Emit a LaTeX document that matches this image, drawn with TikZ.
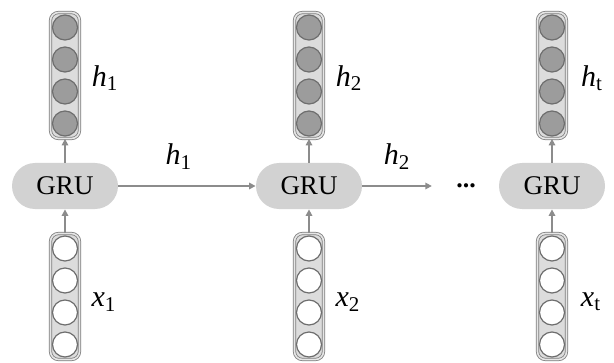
\documentclass[tikz,border=0pt]{standalone}
\usepackage{fontspec}
\setmainfont{Liberation Serif}
\usepackage{tikz}
\usetikzlibrary{arrows.meta, positioning}
\definecolor{cellfill}{HTML}{D2D2D2}
\definecolor{vecfill} {HTML}{DCDCDC}
\definecolor{vecedge} {HTML}{7C7C7C}
\definecolor{hidden}  {HTML}{9C9C9C}
\definecolor{hidedge} {HTML}{6E6E6E}
\definecolor{flowgray}{HTML}{8C8C8C}

\begin{document}
\begin{tikzpicture}[
  % one unit is one pixel of the 614 x 363 layout, y running downwards
  x=0.5pt, y=-0.5pt,
  cell/.style={
    fill=cellfill, rounded corners=11.5pt, minimum width=53pt,
    minimum height=23pt, inner sep=0pt, font=\fontsize{13.5}{15}\selectfont
  },
  vec/.style={
    draw=vecedge, double=vecfill!70, double distance=0.8pt, line width=0.4pt,
    fill=vecfill, rounded corners=4pt, minimum width=14.5pt,
    minimum height=63pt, inner sep=0pt
  },
  hunit/.style={circle, draw=hidedge, fill=hidden, line width=0.6pt,
                minimum size=12.5pt, inner sep=0pt},
  xunit/.style={circle, draw=hidedge, fill=white, line width=0.6pt,
                minimum size=12.5pt, inner sep=0pt},
  flow/.style={-{Triangle[length=3.2pt,width=3.2pt]}, line width=0.75pt,
               color=flowgray},
  varlabel/.style={font=\fontsize{15}{17}\selectfont, text=black, inner sep=1pt}
]

\useasboundingbox (0,0) rectangle (614,363);

\def\cA{65}    % column centres
\def\cB{309}
\def\cC{552}
\def\hY{75.5}  % output vectors
\def\gY{186}   % GRU cells
\def\xY{296.5} % input vectors

% --- GRU cells ----------------------------------------------------------------
\node[cell] (gru1) at (\cA,\gY) {GRU};
\node[cell] (gru2) at (\cB,\gY) {GRU};
\node[cell] (grut) at (\cC,\gY) {GRU};

% --- hidden state vectors, above each cell --------------------------------------
\node[vec] (hvec1) at (\cA,\hY) {};
\node[vec] (hvec2) at (\cB,\hY) {};
\node[vec] (hvect) at (\cC,\hY) {};
\foreach \c/\n in {\cA/1, \cB/2, \cC/t}
  \foreach \i/\y in {1/27.5, 2/59.5, 3/91.5, 4/123.5}
    \node[hunit] (hvec\n-\i) at (\c,\y) {};

% --- input vectors, below each cell ---------------------------------------------
\node[vec] (xvec1) at (\cA,\xY) {};
\node[vec] (xvec2) at (\cB,\xY) {};
\node[vec] (xvect) at (\cC,\xY) {};
\foreach \c/\n in {\cA/1, \cB/2, \cC/t}
  \foreach \i/\y in {1/248.5, 2/280.5, 3/312.5, 4/344.5}
    \node[xunit] (xvec\n-\i) at (\c,\y) {};

% --- vector names -----------------------------------------------------------------
\node[varlabel] (hlab1) at (105,78)  {\textit{h}\textsubscript{1}};
\node[varlabel] (hlab2) at (349,78)  {\textit{h}\textsubscript{2}};
\node[varlabel] (hlabt) at (592,78)  {\textit{h}\textsubscript{t}};
\node[varlabel] (xlab1) at (104,302) {\textit{x}\textsubscript{1}};
\node[varlabel] (xlab2) at (348,302) {\textit{x}\textsubscript{2}};
\node[varlabel] (xlabt) at (591,302) {\textit{x}\textsubscript{t}};

% --- the chain ------------------------------------------------------------------
\node[inner xsep=12pt, font=\fontsize{13}{15}\selectfont\bfseries] (dots) at (466,\gY) {...};

\draw[flow] (gru1) -- node[varlabel, above=7pt, pos=0.44] (hmid1) {\textit{h}\textsubscript{1}} (gru2);
\draw[flow] (gru2) -- node[varlabel, above=7pt] (hmid2) {\textit{h}\textsubscript{2}} (dots);

\foreach \n in {1,2,t} {
  \draw[flow] (gru\n) -- (hvec\n);
  \draw[flow] (xvec\n) -- (gru\n);
}

\end{tikzpicture}
\end{document}
